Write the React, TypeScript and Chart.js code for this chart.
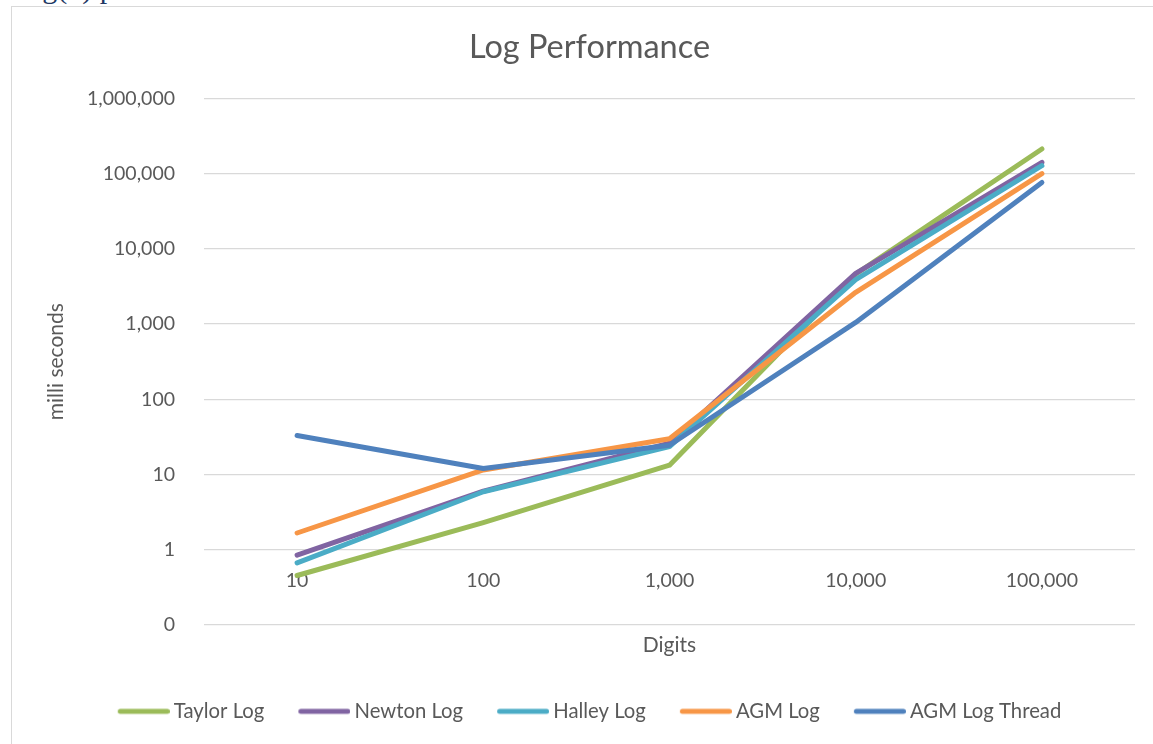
import React, { useEffect, useRef } from "react";
import { Chart, registerables } from "chart.js";

Chart.register(...registerables);

// ---- data ----
const categories = ["10", "100", "1,000", "10,000", "100,000"];
const seriesNames = ["Taylor Log", "Newton Log", "Halley Log", "AGM Log", "AGM Log Thread"];
const taylorLog = [0.455, 2.3, 13.3, 4600, 212000];
const newtonLog = [0.85, 6.0, 26, 4700, 141000];
const halleyLog = [0.67, 5.9, 23.5, 3900, 127000];
const agmLog = [1.67, 11.5, 29.8, 2640, 100000];
const agmLogThread = [33, 12, 24.5, 1050, 76000];
const seriesColors = ["#9BBB59", "#8064A2", "#4BACC6", "#F79646", "#4F81BD"];
const yTickValues = [0.1, 1, 10, 100, 1000, 10000, 100000, 1000000];
const yTickLabels = ["0", "1", "10", "100", "1,000", "10,000", "100,000", "1,000,000"];

const FONT = "Lato";
const TEXT = "#595959";

function makeLegendImage(color: string) {
  const c = document.createElement("canvas");
  c.width = 58;
  c.height = 8;
  const ctx = c.getContext("2d")!;
  ctx.strokeStyle = color;
  ctx.lineWidth = 5;
  ctx.lineCap = "round";
  ctx.beginPath();
  ctx.moveTo(6 + 2.5, 4);
  ctx.lineTo(58 - 2.5, 4);
  ctx.stroke();
  return c;
}

export default function App() {
  const ref = useRef<HTMLCanvasElement | null>(null);

  useEffect(() => {
    const canvas = ref.current;
    if (!canvas) return;
    const series = [taylorLog, newtonLog, halleyLog, agmLog, agmLogThread];
    const images = seriesColors.map(makeLegendImage);
    const chart = new Chart(canvas, {
      type: "line",
      data: {
        labels: categories,
        datasets: series.map((d, i) => ({
          label: seriesNames[i],
          data: d,
          borderColor: seriesColors[i],
          backgroundColor: seriesColors[i],
          borderWidth: 5,
          borderCapStyle: "round",
          borderJoinStyle: "round",
          pointRadius: 0,
          pointHoverRadius: 0,
          tension: 0,
          fill: false,
          order: -i,
          xAxisID: "x",
          yAxisID: "y",
        })),
      },
      options: {
        responsive: false,
        animation: false,
        devicePixelRatio: 1,
        layout: { padding: { left: 44, right: 18, top: 0, bottom: 12.5 } },
        plugins: {
          tooltip: { enabled: false },
          title: {
            display: true,
            text: "Log Performance",
            color: TEXT,
            font: { family: FONT, size: 32.5, weight: "normal" },
            padding: { top: 28.1, bottom: 31.2 },
          },
          legend: {
            position: "bottom",
            labels: {
              usePointStyle: true,
              pointStyleWidth: 46,
              padding: 34,
              color: TEXT,
              font: { family: FONT, size: 20.3 },
              sort: (a: any, b: any) => a.datasetIndex - b.datasetIndex,
              generateLabels: (ch: any) => {
                const items = (Chart.defaults.plugins.legend.labels as any).generateLabels(ch);
                return items.map((it: any) => ({
                  ...it,
                  pointStyle: images[it.datasetIndex],
                  lineWidth: 0,
                }));
              },
            },
          },
        },
        scales: {
          x: {
            type: "category",
            position: { y: 1 } as any,
            offset: true,
            grid: { display: false, drawTicks: false },
            border: { display: false },
            ticks: {
              padding: 19,
              color: TEXT,
              font: { family: FONT, size: 19.5 },
              maxRotation: 0,
              autoSkip: false,
            },
          },
          xTitle: {
            type: "category",
            axis: "x",
            position: "bottom",
            offset: true,
            grid: { display: false, drawTicks: false },
            border: { display: false },
            ticks: { display: false },
            title: {
              display: true,
              text: "Digits",
              color: TEXT,
              font: { family: FONT, size: 21 },
              padding: { top: 8, bottom: 9 },
            },
          } as any,
          y: {
            type: "logarithmic",
            position: "left",
            min: 0.1,
            max: 1000000,
            grid: { color: "#D9D9D9", lineWidth: 1.3, drawTicks: false },
            border: { display: false },
            ticks: {
              padding: 29,
              color: TEXT,
              font: { family: FONT, size: 19.5 },
              callback: (_v: any, idx: number) => yTickLabels[idx],
            },
            afterBuildTicks: (s: any) => {
              s.ticks = yTickValues.map((v) => ({ value: v }));
            },
            afterFit: (s: any) => {
              s.width = 160;
            },
            title: {
              display: true,
              text: "milli seconds",
              color: TEXT,
              font: { family: FONT, size: 21 },
              padding: 0,
            },
          },
        },
      } as any,
    });
    return () => chart.destroy();
  }, []);

  return (
    <div
      style={{
        position: "fixed",
        left: 0,
        top: 0,
        width: 1153,
        height: 744,
        overflow: "hidden",
        background: "#fff",
      }}
    >
      <div
        style={{
          position: "absolute",
          left: 9,
          top: -27,
          fontFamily: "'Liberation Serif', serif",
          fontSize: 30,
          lineHeight: "30px",
          color: "#1F3864",
          whiteSpace: "nowrap",
        }}
      >
        Log(x) performance
      </div>
      <div
        style={{
          position: "absolute",
          left: 11,
          top: 6,
          width: 1200,
          height: 800,
          border: "1px solid #D9D9D9",
          boxSizing: "border-box",
        }}
      />
      <canvas
        ref={ref}
        width={1153}
        height={744}
        style={{ position: "absolute", left: 0, top: 0, width: 1153, height: 744 }}
      />
    </div>
  );
}
